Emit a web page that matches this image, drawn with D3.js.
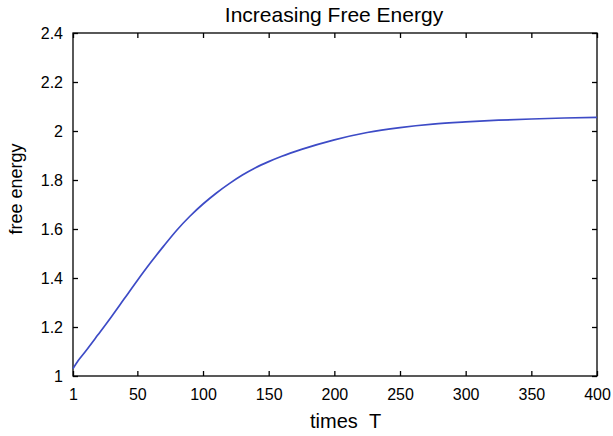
<!DOCTYPE html>
<html><head><meta charset="utf-8">
<script src="https://cdn.jsdelivr.net/npm/d3@7"></script>
<style>body{margin:0;background:#fff}text{font-family:"Liberation Sans",Arial,sans-serif;fill:#000}</style>
</head><body><svg id="c" width="613" height="436"></svg>
<script>
const times = [1,5,10,20,30,40,50,60,70,80,90,100,110,120,130,140,150,160,175,200,225,250,275,300,325,350,375,400];
const energy = [1.03,1.063,1.097,1.168,1.24,1.315,1.39,1.462,1.53,1.595,1.652,1.702,1.746,1.785,1.82,1.85,1.875,1.897,1.925,1.964,1.994,2.014,2.028,2.037,2.044,2.049,2.053,2.056];
const xTicks = [1,50,100,150,200,250,300,350,400];
const yTicks = [1,1.2,1.4,1.6,1.8,2,2.2,2.4];

const m = {l:73, r:597, t:33, b:376};
const svg = d3.select("#c");
const x = d3.scaleLinear().domain([1,400]).range([m.l,m.r]);
const y = d3.scaleLinear().domain([1,2.4]).range([m.b,m.t]);

svg.append("rect").attr("x",m.l).attr("y",m.t).attr("width",m.r-m.l).attr("height",m.b-m.t)
  .attr("fill","#fff").attr("stroke","#000").attr("stroke-width",1.3);

const fmt = d => String(d);
svg.append("g").attr("transform",`translate(0,${m.b})`)
  .call(d3.axisBottom(x).tickValues(xTicks).tickSizeInner(-5).tickSizeOuter(0).tickPadding(13).tickFormat(fmt));
svg.append("g").attr("transform",`translate(0,${m.t})`)
  .call(d3.axisTop(x).tickValues(xTicks).tickSizeInner(-5).tickSizeOuter(0).tickFormat(""));
svg.append("g").attr("transform",`translate(${m.l},0)`)
  .call(d3.axisLeft(y).tickValues(yTicks).tickSizeInner(-5).tickSizeOuter(0).tickPadding(10).tickFormat(fmt));
svg.append("g").attr("transform",`translate(${m.r},0)`)
  .call(d3.axisRight(y).tickValues(yTicks).tickSizeInner(-5).tickSizeOuter(0).tickFormat(""));
svg.selectAll(".domain").remove();
svg.selectAll(".tick line").attr("stroke","#000").attr("stroke-width",1.3);
svg.selectAll(".tick text").attr("font-size",16).attr("font-family","Liberation Sans, Arial, sans-serif");

svg.append("path").datum(times.map((t,i)=>[t,energy[i]]))
  .attr("fill","none").attr("stroke","#3d4bc6").attr("stroke-width",1.7)
  .attr("d", d3.line().x(d=>x(d[0])).y(d=>y(d[1])).curve(d3.curveMonotoneX));

svg.append("text").attr("x",334).attr("y",22).attr("text-anchor","middle")
  .attr("font-size",21).text("Increasing Free Energy");
svg.append("text").attr("x",310).attr("y",428).attr("text-anchor","start")
  .attr("font-size",20).text("times\u00a0\u00a0T");
svg.append("text").attr("transform",`translate(22,189) rotate(-90)`).attr("text-anchor","middle")
  .attr("font-size",18).text("free energy");
</script></body></html>
